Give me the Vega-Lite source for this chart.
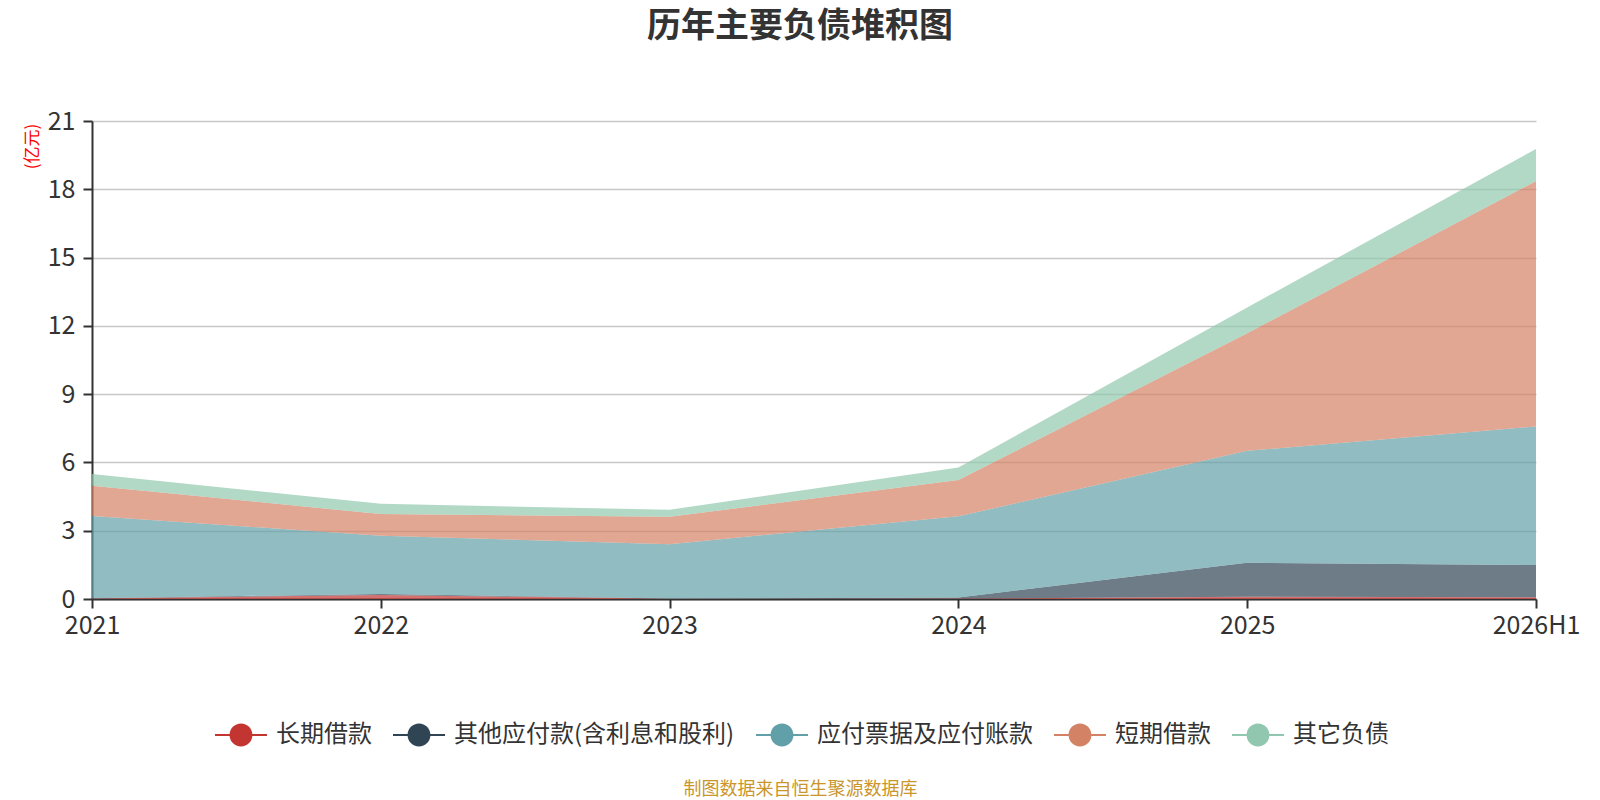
{
  "$schema": "https://vega.github.io/schema/vega-lite/v6.json",
  "autosize": "none",
  "width": 1444,
  "height": 478,
  "padding": {"left": 92, "top": 121, "right": 64, "bottom": 201},
  "background": "white",
  "title": {
    "text": "历年主要负债堆积图",
    "font": "Noto Sans CJK SC",
    "fontSize": 34,
    "fontWeight": "bold",
    "color": "#333333",
    "anchor": "middle",
    "dx": -14,
    "offset": 65
  },
  "data": {
    "values": [
      {"year": "2021", "series": "长期借款", "idx": 1, "value": 0.02},
      {"year": "2021", "series": "其他应付款(含利息和股利)", "idx": 2, "value": 0.01},
      {"year": "2021", "series": "应付票据及应付账款", "idx": 3, "value": 3.62},
      {"year": "2021", "series": "短期借款", "idx": 4, "value": 1.33},
      {"year": "2021", "series": "其它负债", "idx": 5, "value": 0.51},
      {"year": "2022", "series": "长期借款", "idx": 1, "value": 0.18},
      {"year": "2022", "series": "其他应付款(含利息和股利)", "idx": 2, "value": 0.04},
      {"year": "2022", "series": "应付票据及应付账款", "idx": 3, "value": 2.56},
      {"year": "2022", "series": "短期借款", "idx": 4, "value": 0.95},
      {"year": "2022", "series": "其它负债", "idx": 5, "value": 0.45},
      {"year": "2023", "series": "长期借款", "idx": 1, "value": 0.01},
      {"year": "2023", "series": "其他应付款(含利息和股利)", "idx": 2, "value": 0.01},
      {"year": "2023", "series": "应付票据及应付账款", "idx": 3, "value": 2.39},
      {"year": "2023", "series": "短期借款", "idx": 4, "value": 1.2},
      {"year": "2023", "series": "其它负债", "idx": 5, "value": 0.31},
      {"year": "2024", "series": "长期借款", "idx": 1, "value": 0.02},
      {"year": "2024", "series": "其他应付款(含利息和股利)", "idx": 2, "value": 0.05},
      {"year": "2024", "series": "应付票据及应付账款", "idx": 3, "value": 3.56},
      {"year": "2024", "series": "短期借款", "idx": 4, "value": 1.6},
      {"year": "2024", "series": "其它负债", "idx": 5, "value": 0.55},
      {"year": "2025", "series": "长期借款", "idx": 1, "value": 0.1},
      {"year": "2025", "series": "其他应付款(含利息和股利)", "idx": 2, "value": 1.49},
      {"year": "2025", "series": "应付票据及应付账款", "idx": 3, "value": 4.92},
      {"year": "2025", "series": "短期借款", "idx": 4, "value": 5.17},
      {"year": "2025", "series": "其它负债", "idx": 5, "value": 1.13},
      {"year": "2026H1", "series": "长期借款", "idx": 1, "value": 0.08},
      {"year": "2026H1", "series": "其他应付款(含利息和股利)", "idx": 2, "value": 1.41},
      {"year": "2026H1", "series": "应付票据及应付账款", "idx": 3, "value": 6.09},
      {"year": "2026H1", "series": "短期借款", "idx": 4, "value": 10.78},
      {"year": "2026H1", "series": "其它负债", "idx": 5, "value": 1.41}
    ]
  },
  "mark": {"type": "area", "fillOpacity": 0.7, "line": false},
  "encoding": {
    "x": {
      "field": "year",
      "type": "ordinal",
      "scale": {"type": "point", "padding": 0},
      "axis": {
        "title": "制图数据来自恒生聚源数据库",
        "titleFont": "Noto Sans CJK SC",
        "titleFontSize": 18,
        "titleFontWeight": "normal",
        "titleColor": "#c9962c",
        "titleX": 708,
        "titleY": 190,
        "titleAlign": "center",
        "titleBaseline": "middle",
        "labelAngle": 0,
        "labelFont": "Noto Sans CJK SC",
        "labelFontSize": 25,
        "labelColor": "#333333",
        "labelPadding": 5,
        "domainColor": "#333333",
        "domainWidth": 2,
        "tickColor": "#333333",
        "tickWidth": 2,
        "tickSize": 9,
        "grid": false
      }
    },
    "y": {
      "field": "value",
      "type": "quantitative",
      "aggregate": "sum",
      "stack": "zero",
      "scale": {"domain": [0, 21]},
      "axis": {
        "title": "(亿元)",
        "titleFont": "Noto Sans CJK SC",
        "titleFontSize": 17,
        "titleFontWeight": "normal",
        "titleColor": "#ff0000",
        "titleAngle": -90,
        "titleX": -60,
        "titleY": 25,
        "titleAlign": "center",
        "titleBaseline": "middle",
        "values": [0, 3, 6, 9, 12, 15, 18, 21],
        "labelFont": "Noto Sans CJK SC",
        "labelFontSize": 25,
        "labelColor": "#333333",
        "labelPadding": 8,
        "domainColor": "#333333",
        "domainWidth": 2,
        "tickColor": "#333333",
        "tickWidth": 2,
        "tickSize": 9,
        "grid": true,
        "gridColor": "#c8c8c8",
        "gridWidth": 1.5
      }
    },
    "color": {
      "field": "series",
      "type": "nominal",
      "scale": {
        "domain": ["长期借款", "其他应付款(含利息和股利)", "应付票据及应付账款", "短期借款", "其它负债"],
        "range": ["#c23531", "#2f4554", "#61a0a8", "#d48265", "#91c7ae"]
      },
      "legend": {
        "title": null,
        "orient": "none",
        "direction": "horizontal",
        "legendX": 123,
        "legendY": 588,
        "symbolType": "M-1,-0.04L1,-0.04L1,0.04L-1,0.04Z M0.44,0A0.44,0.44,0,1,1,-0.44,0A0.44,0.44,0,1,1,0.44,0Z",
        "symbolSize": 2704,
        "symbolOpacity": 1,
        "symbolStrokeWidth": 0,
        "labelFont": "Noto Sans CJK SC",
        "labelFontSize": 24,
        "labelColor": "#333333",
        "labelOffset": 9,
        "labelLimit": 400,
        "columnPadding": 21
      }
    },
    "order": {"field": "idx", "type": "quantitative", "aggregate": "min"}
  },
  "config": {
    "view": {"stroke": null}
  }
}
